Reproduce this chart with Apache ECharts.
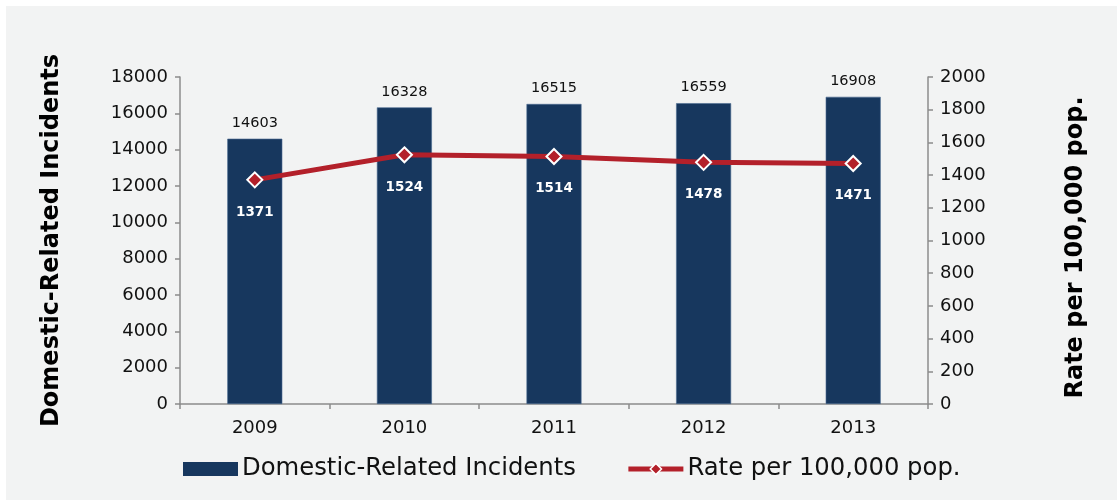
<!DOCTYPE html>
<html>
<head>
<meta charset="utf-8">
<script src="https://cdn.jsdelivr.net/npm/echarts@6/dist/echarts.min.js"></script>
<style>
  html, body { margin: 0; padding: 0; background: #ffffff; }
  #chart { position: absolute; left: 6px; top: 6px; width: 1111px; height: 494px; background: #f2f3f3; }
</style>
</head>
<body>
<div id="chart"></div>
<script>
const years = ['2009', '2010', '2011', '2012', '2013'];
const incidents = [14603, 16328, 16515, 16559, 16908];
const rates = [1371, 1524, 1514, 1478, 1471];

const FONT = '"DejaVu Sans", Verdana, sans-serif';
const AXIS_GRAY = '#8c8c8c';
const LINE_RED = '#b3202a';
const plain = v => String(v);

const chart = echarts.init(document.getElementById('chart'), null, { renderer: 'canvas' });
chart.setOption({
  backgroundColor: '#f2f3f3',
  animation: false,
  textStyle: { fontFamily: FONT },
  grid: { left: 174, right: 189, top: 71, bottom: 96 },
  legend: {
    top: 446,
    left: 172,
    itemGap: 50,
    itemWidth: 55,
    itemHeight: 14,
    textStyle: { fontFamily: FONT, fontSize: 24.3, color: '#111', padding: [0, 0, 0, -1] },
    data: [
      { name: 'Domestic-Related Incidents', icon: 'rect', itemStyle: { borderWidth: 0 } },
      {
        name: 'Rate per 100,000 pop.',
        lineStyle: { width: 5, color: LINE_RED },
        itemStyle: { color: LINE_RED, borderColor: '#fff', borderWidth: 1.5 }
      }
    ]
  },
  xAxis: {
    type: 'category',
    data: years,
    axisLine: { lineStyle: { color: AXIS_GRAY, width: 1.5 } },
    axisTick: { show: true, alignWithLabel: false, length: 5, lineStyle: { color: AXIS_GRAY, width: 1.5 } },
    axisLabel: { fontFamily: FONT, fontSize: 18, color: '#111', margin: 15 }
  },
  yAxis: [
    {
      type: 'value',
      min: 0, max: 18000, interval: 2000,
      name: 'Domestic-Related Incidents',
      nameLocation: 'middle',
      nameGap: 116,
      nameTextStyle: { fontFamily: FONT, fontSize: 24, fontWeight: 'bold', color: '#000' },
      axisLine: { show: true, lineStyle: { color: AXIS_GRAY, width: 1.5 } },
      axisTick: { show: true, length: 5, lineStyle: { color: AXIS_GRAY, width: 1.5 } },
      axisLabel: { fontFamily: FONT, fontSize: 18, color: '#111', margin: 12, formatter: plain },
      splitLine: { show: false }
    },
    {
      type: 'value',
      min: 0, max: 2000, interval: 200,
      name: 'Rate per 100,000 pop.',
      nameLocation: 'middle',
      nameGap: 136,
      nameRotate: 90,
      nameTextStyle: { fontFamily: FONT, fontSize: 24, fontWeight: 'bold', color: '#000', padding: [0, 14, 0, 0] },
      axisLine: { show: true, lineStyle: { color: AXIS_GRAY, width: 1.5 } },
      axisTick: { show: true, length: 5, lineStyle: { color: AXIS_GRAY, width: 1.5 } },
      axisLabel: { fontFamily: FONT, fontSize: 18, color: '#111', margin: 12, formatter: plain },
      splitLine: { show: false }
    }
  ],
  series: [
    {
      name: 'Domestic-Related Incidents',
      type: 'bar',
      yAxisIndex: 0,
      data: incidents,
      barWidth: 55,
      itemStyle: { color: '#17375e', borderColor: '#4a6a90', borderWidth: 0.6 },
      label: {
        show: true,
        position: 'top',
        distance: 8,
        fontFamily: FONT,
        fontSize: 14.5,
        color: '#111'
      }
    },
    {
      name: 'Rate per 100,000 pop.',
      type: 'line',
      yAxisIndex: 1,
      data: rates,
      symbol: 'diamond',
      symbolSize: 15,
      lineStyle: { color: LINE_RED, width: 5 },
      itemStyle: { color: LINE_RED, borderColor: '#ffffff', borderWidth: 2 },
      label: {
        show: true,
        position: 'bottom',
        distance: 17,
        fontFamily: FONT,
        fontSize: 13.5,
        fontWeight: 'bold',
        color: '#ffffff'
      }
    }
  ]
});
</script>
</body>
</html>
